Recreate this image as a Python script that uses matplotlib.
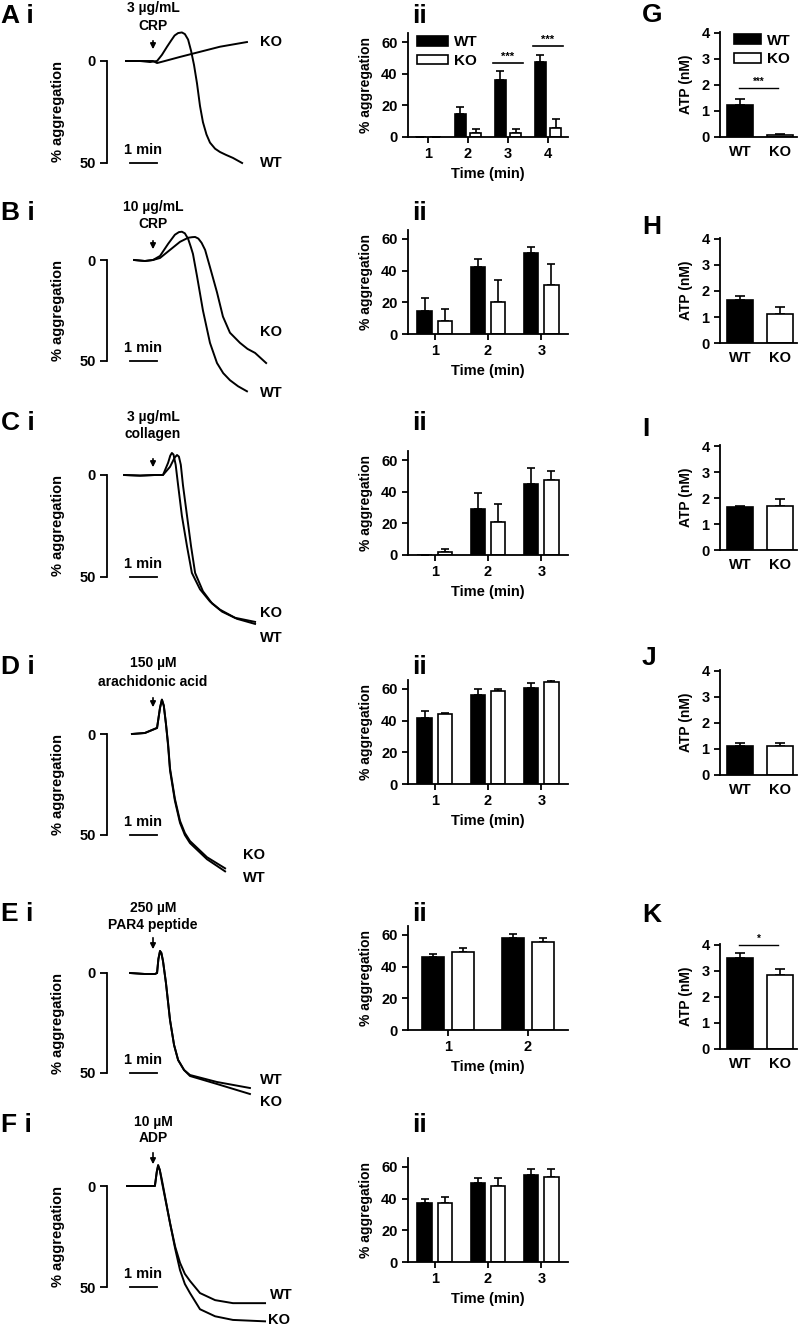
import numpy as np
import matplotlib.pyplot as plt

plt.rcParams['font.family'] = ['Liberation Sans', 'DejaVu Sans']
plt.rcParams['font.weight'] = 'bold'

W, H = 800, 1327

# ---- aggregation traces (time in min after agonist, % aggregation) ----
trace_A_wt_t = [-1.0, -0.48, -0.11, 0.15, 0.33, 0.52, 0.67, 0.8, 0.93, 1.07, 1.18, 1.3, 1.41, 1.52, 1.63, 1.74, 1.85, 1.98, 2.11, 2.3, 2.48, 2.7, 2.96, 3.30]
trace_A_wt_v = [0, 0, 0.5, 0, -3, -7, -10, -12.5, -13.7, -14, -13.2, -10.5, -5, 2, 11, 22, 30, 36, 40, 43, 44.6, 46, 47.5, 50]
trace_A_ko_t = [-1.0, -0.48, 0.0, 0.15, 0.44, 1.0, 1.74, 2.48, 3.48]
trace_A_ko_v = [0, 0, 0, 1, 0, -2, -4.5, -7, -9.3]

trace_B_wt_t = [-0.70, -0.30, 0, 0.26, 0.56, 0.81, 0.96, 1.07, 1.18, 1.30, 1.40, 1.48, 1.63, 1.85, 2.11, 2.37, 2.6, 2.85, 3.15, 3.48]
trace_B_wt_v = [0, 0.5, 0, -2, -8, -12.5, -13.8, -14, -13.2, -10.5, -6.5, -3, 8, 25, 41, 51, 56, 59.5, 62.5, 65]
trace_B_ko_t = [-0.70, -0.30, 0, 0.26, 0.63, 1.0, 1.30, 1.45, 1.56, 1.68, 1.80, 1.93, 2.11, 2.37, 2.59, 2.85, 3.22, 3.5, 3.78, 4.19]
trace_B_ko_v = [0, 0.5, 0, -1, -5, -9, -11, -11.3, -11.4, -10.6, -8.5, -5, 3.5, 16, 28, 36, 41, 44, 46, 51]

trace_C_wt_t = [-1.07, -0.48, 0.07, 0.37, 0.63, 0.80, 0.89, 0.96, 1.03, 1.11, 1.26, 1.41, 1.56, 1.85, 2.19, 2.56, 3.11, 3.78]
trace_C_wt_v = [0, 0.3, 0, 0, -4, -8.5, -9.8, -9, -5, 5, 20, 35, 48, 57, 63, 67, 70.5, 73]
trace_C_ko_t = [-1.07, -0.48, 0.07, 0.37, 0.56, 0.64, 0.70, 0.76, 0.84, 0.93, 1.07, 1.26, 1.44, 1.74, 2.11, 2.48, 3.04, 3.78]
trace_C_ko_v = [0, 0.3, 0, 0, -6, -9.5, -10.8, -10, -5, 5, 20, 35, 48, 56, 62, 66, 70, 72]

trace_D_t = [-0.78, -0.30, 0.15, 0.26, 0.33, 0.40, 0.48, 0.56, 0.63, 0.81, 1.0, 1.18, 1.37, 2.0, 2.67]
trace_D_wt_v = [0, -0.5, -3, -13, -17, -14, -5, 6, 18, 33, 44, 50, 54, 62, 68]
trace_D_ko_v = [0, -0.5, -3, -13, -17, -14, -5, 5, 17, 32, 43, 49, 53, 61, 66.5]

trace_E_t = [-0.85, -0.30, 0.07, 0.15, 0.20, 0.26, 0.31, 0.37, 0.48, 0.63, 0.78, 0.93, 1.15, 1.37, 2.37, 3.59]
trace_E_wt_v = [0, 0.5, 0.5, 0, -7, -11, -10, -6, 5, 23.5, 36, 43.5, 48.5, 51, 54.5, 57.5]
trace_E_ko_v = [0, 0.5, 0.5, 0, -7, -11, -10, -6, 5, 23.5, 36, 43.5, 48.5, 51.5, 55.5, 60.5]

trace_F_t = [-0.96, -0.30, 0.07, 0.14, 0.19, 0.25, 0.33, 0.63, 0.82, 1.0, 1.18, 1.37, 1.74, 2.30, 2.96, 4.15]
trace_F_wt_v = [0, 0, 0, -7, -10.4, -8, -3, 18.3, 30, 38, 43.5, 47, 53, 56.5, 58, 58]
trace_F_ko_v = [0, 0, 0, -7, -10, -8, -2, 18.3, 31, 41.6, 48.5, 53, 61, 64.5, 66.3, 67]

agonists = [["3 µg/mL", "CRP"], ["10 µg/mL", "CRP"], ["3 µg/mL", "collagen"],
            ["150 µM", "arachidonic acid"], ["250 µM", "PAR4 peptide"], ["10 µM", "ADP"]]

# ---- % aggregation bars ----
agg_A_wt = [0, 14.5, 36, 47.5];   agg_A_wt_err = [0, 4.5, 6, 4]
agg_A_ko = [0, 2.7, 2.7, 5.9];    agg_A_ko_err = [0, 2.3, 2.3, 5.5]
agg_B_wt = [14.4, 42.5, 51];      agg_B_wt_err = [8.6, 5, 4]
agg_B_ko = [8, 20, 31];           agg_B_ko_err = [7.6, 14.4, 13.4]
agg_C_wt = [0, 29, 45];           agg_C_wt_err = [0, 10, 10]
agg_C_ko = [2, 21, 47.5];         agg_C_ko_err = [2, 11, 5.5]
agg_D_wt = [42, 56, 60.5];        agg_D_wt_err = [4, 4, 3.5]
agg_D_ko = [44, 59, 64.5];        agg_D_ko_err = [1, 1, 1.5]
agg_E_wt = [46, 58];              agg_E_wt_err = [2, 2.5]
agg_E_ko = [49, 55.5];            agg_E_ko_err = [3, 2.5]
agg_F_wt = [37.3, 50, 55];        agg_F_wt_err = [2.5, 3, 3.7]
agg_F_ko = [37.3, 48, 53.5];      agg_F_ko_err = [3.7, 5, 5.2]

# ---- ATP secretion ----
atp_labels = ["WT", "KO"]
atp_G = [1.25, 0.07]; atp_G_err = [0.2, 0.06]
atp_H = [1.65, 1.1];  atp_H_err = [0.17, 0.3]
atp_I = [1.64, 1.68]; atp_I_err = [0.07, 0.3]
atp_J = [1.1, 1.1];   atp_J_err = [0.12, 0.12]
atp_K = [3.5, 2.83];  atp_K_err = [0.2, 0.26]

fig = plt.figure(figsize=(W / 100, H / 100), dpi=100)


def px_axes(left, top, width, height):
    return fig.add_axes([left / W, 1 - (top + height) / H, width / W, height / H])


def ftext(x, y, s, **kw):
    fig.text(x / W, 1 - y / H, s, **kw)


PX_MIN = 27.0   # pixels per minute
T0_PX = 153.0   # agonist addition


def trace_panel(y0, y50, series, labels, letter, agonist, lab_y, ag_y, arrow_y):
    ppv = (y50 - y0) / 50.0
    top = y0 - 60
    bot = y50 + 75
    ax = px_axes(107, top, 185, bot - top)
    ax.set_xlim((107 - T0_PX) / PX_MIN, (292 - T0_PX) / PX_MIN)
    ax.set_ylim((bot - y0) / ppv, (top - y0) / ppv)
    for t, v in series:
        ax.plot(t, v, color='black', lw=1.4)
    for s in ['top', 'right', 'bottom']:
        ax.spines[s].set_visible(False)
    ax.spines['left'].set_bounds(0, 50)
    ax.spines['left'].set_linewidth(1.3)
    ax.set_xticks([])
    ax.set_yticks([0, 50])
    ax.tick_params(axis='y', length=5, width=1.3, labelsize=10.5, pad=3)
    ax.set_ylabel('% aggregation', fontsize=10.5, fontweight='bold')
    ax.yaxis.set_label_coords(-42 / 185, (bot - (y0 + y50) / 2) / (bot - top))
    # scale bar
    ax.plot([(130 - T0_PX) / PX_MIN, (157 - T0_PX) / PX_MIN], [50, 50], color='black', lw=1.3)
    ax.text((143.5 - T0_PX) / PX_MIN, 50 - 6 / ppv, '1 min', ha='center', va='bottom', fontsize=10.5)
    # agonist arrow
    ax.annotate('', xy=(0, (arrow_y[1] - y0) / ppv), xytext=(0, (arrow_y[0] - y0) / ppv),
                arrowprops=dict(arrowstyle='-|>', color='black', lw=1.2, mutation_scale=8),
                annotation_clip=False)
    ftext(1, lab_y, letter + ' i', fontsize=19, va='center', ha='left')
    ftext(T0_PX, ag_y[0], agonist[0], fontsize=10, ha='center', va='center')
    ftext(T0_PX, ag_y[1], agonist[1], fontsize=10, ha='center', va='center')
    for txt, x, y in labels:
        ftext(x, y, txt, fontsize=10.5, ha='left', va='center')
    return ax


trace_panel(61, 163, [(trace_A_wt_t, trace_A_wt_v), (trace_A_ko_t, trace_A_ko_v)],
            [('KO', 260, 42), ('WT', 260, 163)], 'A', agonists[0], 16, (8, 26), (38, 52))
trace_panel(260, 361, [(trace_B_wt_t, trace_B_wt_v), (trace_B_ko_t, trace_B_ko_v)],
            [('KO', 260, 332), ('WT', 260, 393)], 'B', agonists[1], 213, (207, 224), (238, 252))
trace_panel(475, 577, [(trace_C_wt_t, trace_C_wt_v), (trace_C_ko_t, trace_C_ko_v)],
            [('KO', 260, 613), ('WT', 260, 638)], 'C', agonists[2], 423, (417, 434), (456, 470))
trace_panel(734, 835, [(trace_D_t, trace_D_wt_v), (trace_D_t, trace_D_ko_v)],
            [('KO', 243, 855), ('WT', 243, 878)], 'D', agonists[3], 667, (663, 682), (695, 710))
trace_panel(973, 1073, [(trace_E_t, trace_E_wt_v), (trace_E_t, trace_E_ko_v)],
            [('WT', 260, 1080), ('KO', 260, 1102)], 'E', agonists[4], 914, (908, 925), (935, 952))
trace_panel(1186, 1287, [(trace_F_t, trace_F_wt_v), (trace_F_t, trace_F_ko_v)],
            [('WT', 270, 1295), ('KO', 268, 1320)], 'F', agonists[5], 1125, (1122, 1138), (1150, 1167))


def agg_panel(zero, wt, wt_err, ko, ko_err, lab_y, sig=None, legend=False):
    n = len(wt)
    ppu = 95 / 60.0
    height = 65.5 * ppu
    ax = px_axes(408, zero - height, 160, height)
    x = np.arange(1, n + 1)
    ax.bar(x - 0.19, wt, 0.27, color='black', edgecolor='black', lw=1.2, label='WT', zorder=2)
    ax.bar(x + 0.19, ko, 0.27, color='white', edgecolor='black', lw=1.2, label='KO', zorder=2)
    ax.errorbar(x - 0.19, wt, yerr=[np.zeros(n), wt_err], fmt='none', ecolor='black',
                elinewidth=1.2, capsize=3, capthick=1.2, zorder=1)
    ax.errorbar(x + 0.19, ko, yerr=[np.zeros(n), ko_err], fmt='none', ecolor='black',
                elinewidth=1.2, capsize=3, capthick=1.2, zorder=1)
    ax.set_xlim(0.5, n + 0.5)
    ax.set_ylim(0, 65.5)
    ax.set_xticks(x)
    ax.set_yticks([0, 20, 40, 60])
    for s in ['top', 'right']:
        ax.spines[s].set_visible(False)
    for s in ['left', 'bottom']:
        ax.spines[s].set_linewidth(1.3)
    ax.tick_params(length=4, width=1.3, labelsize=10.5)
    ax.set_xlabel('Time (min)', fontsize=10.5, fontweight='bold', labelpad=4)
    ax.set_ylabel('% aggregation', fontsize=10, fontweight='bold', labelpad=6)
    if sig:
        for xi, y, s in sig:
            ax.plot([xi - 0.38, xi + 0.38], [y, y], color='black', lw=1.2)
            ax.text(xi, y + 0.5, s, ha='center', va='bottom', fontsize=8)
    if legend:
        ax.legend(loc='upper left', bbox_to_anchor=(0.02, 1.04), frameon=False, fontsize=11,
                  handlelength=2.0, handleheight=0.6, labelspacing=0.3, handletextpad=0.4,
                  borderaxespad=0)
    ftext(412, lab_y, 'ii', fontsize=19, va='center', ha='left')
    return ax


agg_panel(137, agg_A_wt, agg_A_wt_err, agg_A_ko, agg_A_ko_err, 16,
          sig=[(3, 47, '***'), (4, 57.5, '***')], legend=True)
agg_panel(334, agg_B_wt, agg_B_wt_err, agg_B_ko, agg_B_ko_err, 213)
agg_panel(555, agg_C_wt, agg_C_wt_err, agg_C_ko, agg_C_ko_err, 423)
agg_panel(784, agg_D_wt, agg_D_wt_err, agg_D_ko, agg_D_ko_err, 667)
agg_panel(1030, agg_E_wt, agg_E_wt_err, agg_E_ko, agg_E_ko_err, 914)
agg_panel(1262, agg_F_wt, agg_F_wt_err, agg_F_ko, agg_F_ko_err, 1125)


def atp_panel(zero, vals, errs, letter, lab_y, sig=None, legend=False):
    ppu = 26.0
    height = 4.05 * ppu
    ax = px_axes(720, zero - height, 77, height)
    ax.bar([0], vals[0], 0.65, color='black', edgecolor='black', lw=1.2, label='WT', zorder=2)
    ax.bar([1], vals[1], 0.65, color='white', edgecolor='black', lw=1.2, label='KO', zorder=2)
    ax.errorbar([0, 1], vals, yerr=[[0, 0], errs], fmt='none', ecolor='black',
                elinewidth=1.2, capsize=3.5, capthick=1.2, zorder=1)
    ax.set_xlim(-0.5, 1.425)
    ax.set_ylim(0, 4.05)
    ax.set_xticks([0, 1])
    ax.set_xticklabels(atp_labels)
    ax.set_yticks([0, 1, 2, 3, 4])
    for s in ['top', 'right']:
        ax.spines[s].set_visible(False)
    for s in ['left', 'bottom']:
        ax.spines[s].set_linewidth(1.3)
    ax.tick_params(axis='y', length=4, width=1.3, labelsize=10.5)
    ax.tick_params(axis='x', length=0, labelsize=10.5, pad=6)
    ax.set_ylabel('ATP (nM)', fontsize=10, fontweight='bold', labelpad=6)
    if sig:
        y, s = sig
        ax.plot([-0.02, 0.95], [y, y], color='black', lw=1.0, clip_on=False)
        ax.text(0.47, y + 0.05, s, ha='center', va='bottom', fontsize=7)
    if legend:
        ax.legend(loc='upper left', bbox_to_anchor=(0.1, 1.04), frameon=False, fontsize=11,
                  handlelength=1.8, handleheight=0.6, labelspacing=0.3, handletextpad=0.4,
                  borderaxespad=0)
    ftext(642, lab_y, letter, fontsize=19, va='center', ha='left')
    return ax


atp_panel(137, atp_G, atp_G_err, 'G', 15, sig=(1.88, '***'), legend=True)
atp_panel(343, atp_H, atp_H_err, 'H', 227)
atp_panel(550, atp_I, atp_I_err, 'I', 429)
atp_panel(775, atp_J, atp_J_err, 'J', 658)
atp_panel(1049, atp_K, atp_K_err, 'K', 915, sig=(4.0, '*'))

fig.savefig('out.png', dpi=100)
